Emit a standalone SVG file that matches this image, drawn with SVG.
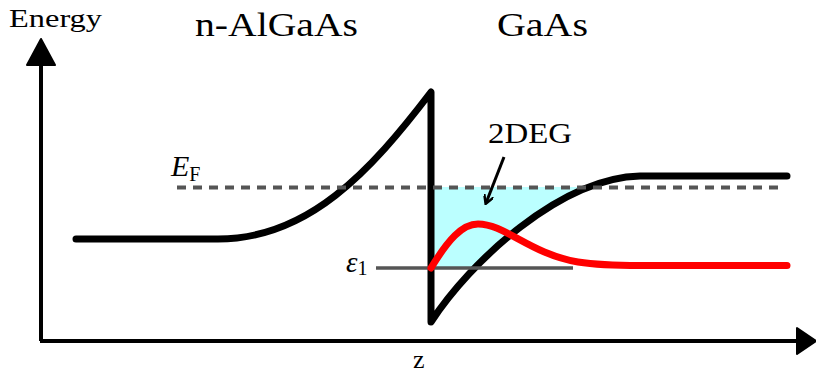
<svg xmlns="http://www.w3.org/2000/svg" width="816" height="379" viewBox="0 0 816 379">
<style>
text{font-family:"Liberation Serif","DejaVu Serif",serif;fill:#000}
.band{fill:none;stroke:#000;stroke-width:7;stroke-linecap:round;stroke-linejoin:round}
.axis{fill:none;stroke:#000;stroke-width:4}
</style>
<defs>
<clipPath id="cl"><rect x="431" y="187" width="300" height="81"/></clipPath>
<marker id="ah" markerWidth="10" markerHeight="10" refX="8" refY="5" orient="auto" markerUnits="userSpaceOnUse" viewBox="0 0 10 10">
<path d="M0,0 L9,5 L0,10" fill="none" stroke="#000" stroke-width="2.5"/>
</marker>
</defs>
<rect width="816" height="379" fill="#fff"/>
<g id="well-fill">
<path d="M431,322 C470,262 560,178 640,176 L740,176 L740,100 L431,100 Z" fill="#bbffff" clip-path="url(#cl)"/>
</g>
<g id="axes">
<path class="axis" d="M41,341 V60 M40,341 H800"/>
<path d="M41,39 L55,65 L27,65 Z" fill="#000" stroke="#000" stroke-width="2" stroke-linejoin="round"/>
<path d="M816,341 L797,328 L797,354 Z" fill="#000" stroke="#000" stroke-width="2" stroke-linejoin="round"/>
</g>
<g id="band">
<path class="band" d="M76,239 L218,239 C308,239 370,172 431,92 L431,322 C470,262 560,178 640,176 L787,176"/>
</g>
<g id="eps1">
<line x1="376" y1="268" x2="573" y2="268" stroke="#555" stroke-width="3.5"/>
<text x="346" y="272" font-size="29" font-style="italic">ε<tspan font-size="20" font-style="normal" dy="3">1</tspan></text>
</g>
<g id="fermi">
<line x1="177" y1="187.5" x2="782" y2="187.5" stroke="#555" stroke-width="4" stroke-dasharray="9,7"/>
<text x="171" y="176" font-size="30" font-style="italic">E<tspan font-size="20" font-style="normal" dy="5">F</tspan></text>
</g>
<g id="wavefunction">
<path d="M431,268 C448,240 462,224 478,224 C505,224 530,254 578,262 C600,265.5 620,265.5 640,265.5 L787,265.5" fill="none" stroke="#ff0000" stroke-width="7" stroke-linecap="round"/>
</g>
<g id="connectors">
<line x1="504" y1="157" x2="486" y2="203" stroke="#000" stroke-width="3" marker-end="url(#ah)"/>
</g>
<g id="labels">
<text x="9" y="27" font-size="25" textLength="93" lengthAdjust="spacingAndGlyphs">Energy</text>
<text x="195" y="36" font-size="34" textLength="163" lengthAdjust="spacingAndGlyphs">n-AlGaAs</text>
<text x="497" y="36" font-size="34" textLength="91" lengthAdjust="spacingAndGlyphs">GaAs</text>
<text x="488" y="143" font-size="29" textLength="84" lengthAdjust="spacingAndGlyphs">2DEG</text>
<text x="413" y="368" font-size="26">z</text>
</g>
</svg>
